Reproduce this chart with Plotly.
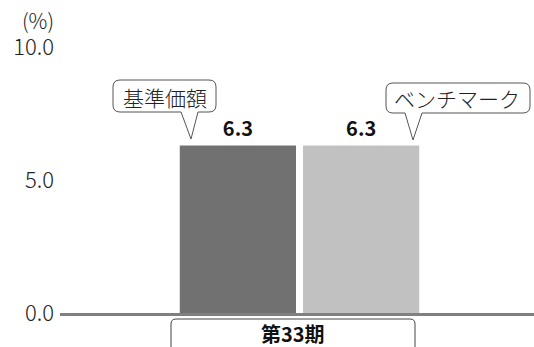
import plotly.graph_objects as go

# ---- data ----
categories = ["第33期"]
series_names = ["基準価額", "ベンチマーク"]
fund_values = [6.3]
benchmark_values = [6.3]
y_ticks = [0.0, 5.0, 10.0]
y_tick_labels = ["0.0", "5.0", "10.0"]

FONT = "Noto Sans CJK JP"
W, H = 534, 347
L, R, T, B = 60, 0, 47, 34
PW, PH = W - L - R, H - T - B

def px(x):
    return (x - L) / PW

def py(y):
    return (H - B - y) / PH

def rounded_box(x0, y0, x1, y1, r, tail=None):
    # pixel coords -> paper coords path; tail = (bx0, bx1, tipx, tipy) on the bottom edge
    p = f"M {px(x0 + r)},{py(y0)} L {px(x1 - r)},{py(y0)} Q {px(x1)},{py(y0)} {px(x1)},{py(y0 + r)} "
    p += f"L {px(x1)},{py(y1 - r)} Q {px(x1)},{py(y1)} {px(x1 - r)},{py(y1)} "
    if tail:
        bx0, bx1, tx, ty = tail
        p += f"L {px(bx1)},{py(y1)} L {px(tx)},{py(ty)} L {px(bx0)},{py(y1)} "
    p += f"L {px(x0 + r)},{py(y1)} Q {px(x0)},{py(y1)} {px(x0)},{py(y1 - r)} "
    p += f"L {px(x0)},{py(y0 + r)} Q {px(x0)},{py(y0)} {px(x0 + r)},{py(y0)} Z"
    return p

fig = go.Figure()
fig.add_trace(go.Bar(
    x=categories, y=fund_values, name=series_names[0],
    marker=dict(color="#717171", line=dict(width=0)),
    text=fund_values, texttemplate="<b>%{y:.1f}</b>", textposition="outside",
    textfont=dict(family=FONT, size=20, color="#111111"), cliponaxis=False,
))
fig.add_trace(go.Bar(
    x=categories, y=benchmark_values, name=series_names[1],
    marker=dict(color="#c0c1c0", line=dict(width=0)),
    text=benchmark_values, texttemplate="<b>%{y:.1f}</b>", textposition="outside",
    textfont=dict(family=FONT, size=20, color="#111111"), cliponaxis=False,
))

shapes = [
    dict(type="path", xref="paper", yref="paper",
         path=rounded_box(113, 80, 216, 112, 7, tail=(181, 198, 191, 139)),
         line=dict(color="#555555", width=1), fillcolor="white", layer="above"),
    dict(type="path", xref="paper", yref="paper",
         path=rounded_box(386, 83, 530, 113, 7, tail=(405, 422, 413, 140)),
         line=dict(color="#555555", width=1), fillcolor="white", layer="above"),
    dict(type="path", xref="paper", yref="paper",
         path=rounded_box(171, 319, 415, 360, 5),
         line=dict(color="#444444", width=1), fillcolor="rgba(0,0,0,0)", layer="above"),
]

def ann(text, x, y, size, weight=300, color="#222222"):
    return dict(text=text, x=px(x), y=py(y), xref="paper", yref="paper",
                xanchor="center", yanchor="middle", showarrow=False,
                font=dict(family=FONT, size=size, color=color, weight=weight))

annotations = [
    ann(series_names[0], 165, 97, 21),
    ann(series_names[1], 457, 98, 21),
    ann(categories[0], 293, 333, 20, weight=700, color="#111111"),
    ann("(%)", 38, 20, 21),
]

fig.update_layout(
    width=W, height=H,
    margin=dict(l=L, r=R, t=T, b=B, pad=0),
    paper_bgcolor="white", plot_bgcolor="white",
    barmode="group", bargap=0.48, bargroupgap=0.057,
    showlegend=False,
    shapes=shapes, annotations=annotations,
    font=dict(family=FONT, color="#222222"),
    xaxis=dict(type="category", range=[-0.5053, 0.4947], showticklabels=False,
               showgrid=False, zeroline=False, showline=True,
               linecolor="#808080", linewidth=2.5, ticks=""),
    yaxis=dict(range=[0, 10], tickvals=y_ticks, ticktext=y_tick_labels,
               showgrid=False, zeroline=False, showline=False, ticks="",
               tickfont=dict(family=FONT, size=22, color="#222222", weight=300),
               ticklabelstandoff=5),
)

fig.write_html("out.html")
